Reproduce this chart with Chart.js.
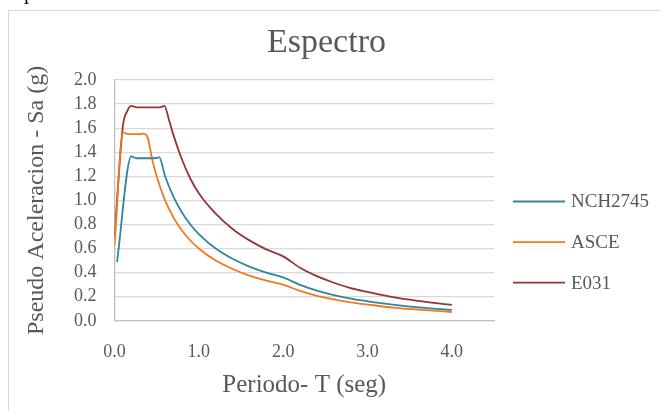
<!DOCTYPE html>
<html>
<head>
<meta charset="utf-8">
<title>Espectro</title>
<script src="https://cdn.jsdelivr.net/npm/chart.js@4.4.1/dist/chart.umd.min.js"></script>
<style>
  html, body { margin: 0; padding: 0; background: #fff; overflow: hidden; }
  #wrap { position: relative; width: 660px; height: 411px; overflow: hidden; }
  #frame { position: absolute; left: 8px; top: 10px; width: 680px; height: 430px; border: 1px solid #d9d9d9; pointer-events: none; }
  #docText { position: absolute; left: 24px; top: -18px; font: 21px/21px 'Liberation Serif', serif; color: #000; }
</style>
</head>
<body>
<div id="wrap">
  <div id="docText">p</div>
  <div id="frame"></div>
  <canvas id="spectrumChart"></canvas>
</div>
<script>
// Datos: periodo T (seg) y Sa (g)
const tNch = [0.03, 0.2, 0.25, 0.3, 0.4, 0.5, 0.53, 0.6, 0.7, 0.8, 0.9, 1.0, 1.2, 1.4, 1.6, 1.8, 2.0, 2.2, 2.4, 2.6, 2.8, 3.0, 3.3, 3.6, 4.0];
const saNch = [0.49, 1.365, 1.352, 1.35, 1.35, 1.352, 1.36, 1.2, 1.03, 0.9, 0.8, 0.72, 0.6, 0.515, 0.45, 0.4, 0.36, 0.298, 0.25, 0.213, 0.184, 0.162, 0.134, 0.112, 0.09];

const tAsce = [0, 0.1, 0.15, 0.2, 0.3, 0.34, 0.39, 0.45, 0.5, 0.6, 0.7, 0.8, 0.9, 1.0, 1.2, 1.4, 1.6, 1.8, 2.0, 2.2, 2.4, 2.6, 2.8, 3.0, 3.3, 3.6, 4.0];
const saAsce = [0.62, 1.565, 1.553, 1.55, 1.55, 1.555, 1.53, 1.33, 1.2, 1.0, 0.857, 0.75, 0.667, 0.6, 0.5, 0.43, 0.375, 0.333, 0.3, 0.248, 0.208, 0.178, 0.153, 0.135, 0.11, 0.093, 0.073];

const tE031 = [0, 0.1, 0.15, 0.2, 0.25, 0.3, 0.4, 0.5, 0.55, 0.59, 0.65, 0.7, 0.8, 0.9, 1.0, 1.2, 1.4, 1.6, 1.8, 2.0, 2.2, 2.4, 2.6, 2.8, 3.0, 3.3, 3.6, 4.0];
const saE031 = [0.705, 1.62, 1.74, 1.785, 1.775, 1.773, 1.773, 1.773, 1.775, 1.785, 1.66, 1.54, 1.34, 1.18, 1.06, 0.89, 0.763, 0.668, 0.593, 0.535, 0.441, 0.371, 0.316, 0.272, 0.24, 0.196, 0.165, 0.132];

const seriesNames = ['NCH2745', 'ASCE', 'E031'];
const seriesColors = ['#31859C', '#EE7A1D', '#943634'];

const textColor = '#595959';
Chart.defaults.font.family = "'Liberation Serif', 'Times New Roman', serif";
Chart.defaults.color = textColor;

function toPoints(ts, vals) {
    return ts.map((t, i) => ({ x: t, y: vals[i] }));
}

function makeDataset(idx, ts, vals) {
    return {
        label: seriesNames[idx],
        data: toPoints(ts, vals),
        showLine: true,
        borderColor: seriesColors[idx],
        backgroundColor: seriesColors[idx],
        borderWidth: 1.8,
        pointRadius: 0,
        cubicInterpolationMode: 'monotone'
    };
}

// Leyenda a la derecha, dibujada en el canvas
const sideLegend = {
    id: 'sideLegend',
    afterDraw(chart) {
        const ctx = chart.ctx;
        ctx.save();
        ctx.font = "19px 'Liberation Serif', serif";
        ctx.textBaseline = 'middle';
        ctx.fillStyle = textColor;
        chart.data.datasets.forEach((ds, i) => {
            const y = 201.5 + i * 40.6;
            ctx.strokeStyle = ds.borderColor;
            ctx.lineWidth = ds.borderWidth;
            ctx.beginPath();
            ctx.moveTo(513, y);
            ctx.lineTo(565, y);
            ctx.stroke();
            ctx.fillText(ds.label, 571, y + 1);
        });
        ctx.restore();
    }
};

const fmt = v => Number(v).toFixed(1);

new Chart(document.getElementById('spectrumChart'), {
    type: 'scatter',
    data: {
        datasets: [
            makeDataset(0, tNch, saNch),
            makeDataset(1, tAsce, saAsce),
            makeDataset(2, tE031, saE031)
        ]
    },
    options: {
        responsive: true,
        maintainAspectRatio: false,
        animation: false,
        layout: { padding: { left: 0, right: 7, top: 0, bottom: 0 } },
        plugins: {
            legend: { display: false },
            tooltip: { enabled: false },
            title: {
                display: true,
                text: 'Espectro',
                color: textColor,
                font: { size: 34, weight: 'normal' },
                padding: { top: 23, bottom: 16.2 }
            }
        },
        scales: {
            x: {
                type: 'linear',
                min: 0,
                max: 4.5,
                grid: { display: false },
                border: { color: '#bfbfbf', width: 1.3 },
                ticks: {
                    stepSize: 1,
                    includeBounds: false,
                    autoSkip: false,
                    maxRotation: 0,
                    padding: 12.4,
                    font: { size: 18 },
                    callback: fmt
                },
                title: {
                    display: true,
                    text: 'Periodo- T (seg)',
                    font: { size: 25 },
                    padding: { top: 0, bottom: 10.3 }
                },
                afterFit(s) { s.height = 90.2; }
            },
            y: {
                type: 'linear',
                min: 0,
                max: 2,
                grid: { color: '#d9d9d9', lineWidth: 1.3, drawTicks: false },
                border: { color: '#bfbfbf', width: 1.3 },
                ticks: {
                    stepSize: 0.2,
                    autoSkip: false,
                    padding: 18,
                    font: { size: 18 },
                    callback: fmt
                },
                title: {
                    display: true,
                    text: 'Pseudo Aceleracion - Sa (g)',
                    font: { size: 24 },
                    padding: { top: 22.6, bottom: 0 }
                },
                afterFit(s) { s.width = 114.5; }
            },
            // eje vacio que reserva el espacio de la leyenda
            yLegend: {
                position: 'right',
                grid: { display: false },
                border: { display: false },
                ticks: { display: false },
                afterFit(s) { s.width = 159; }
            }
        }
    },
    plugins: [sideLegend]
});
</script>
</body>
</html>
